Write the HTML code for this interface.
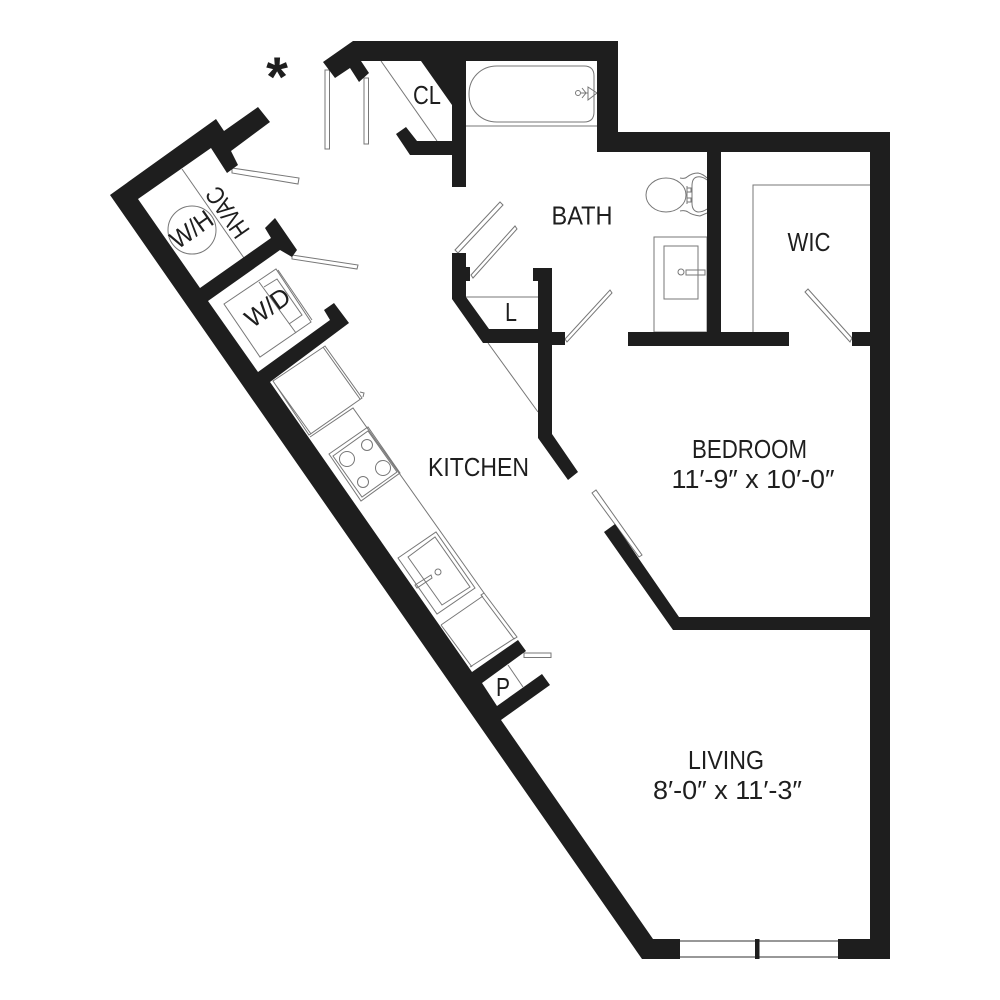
<!DOCTYPE html>
<html><head><meta charset="utf-8"><style>
html,body{margin:0;padding:0;background:#fff}
svg{display:block}
text{font-family:"Liberation Sans",sans-serif;fill:#1e1e1e;font-size:25.5px;text-anchor:middle}
.l{fill:none;stroke:#777;stroke-width:1}
.d{fill:#fff;stroke:#777;stroke-width:1}
.w{fill:#1e1e1e}
</style></head><body>
<svg width="1000" height="1000" viewBox="0 0 1000 1000" xmlns="http://www.w3.org/2000/svg">
<rect width="1000" height="1000" fill="#fff"/>
<!-- thin fixtures -->
<g class="l">
<path d="M182 169L244 258"/>
<circle cx="192" cy="230" r="24"/>
<path d="M224 304L276 269L311 322L260 357Z"/>
<path d="M259 282L296 333M264 287L277 279L302 315L289 324M278 270L312 320"/>
<path d="M381 61L437 141"/>
<path d="M466 126H597"/>
<path d="M497 66H584Q594 66 594 76V112Q594 122 584 122H497C481 122 469 110 469 94S481 66 497 66Z"/>
<circle cx="578" cy="93" r="2.5"/>
<path d="M588 87L597 93L588 100ZM581 93H588M582 88L586 93L582 98"/>
<path d="M466 297H538M488 343L538 412"/>
<ellipse cx="666" cy="195" rx="20" ry="17"/>
<path d="M680 178Q685 179 687 177Q692 173 698 173Q703 174 707 178M680 211Q685 210 688 212Q692 215 700 216L707 213"/>
<path d="M707 180Q702 176 697 177Q692 178 692 186V203Q692 211 698 212Q703 212 707 209"/>
<path d="M687 186V204M687 188H691V192H687M687 198H691V202H687"/>
<rect x="654" y="237" width="53" height="95"/>
<rect x="664" y="246" width="34" height="53"/>
<circle cx="681" cy="272" r="3"/>
<path d="M686 270H705V275H686Z"/>
<path d="M753 332V185H870"/>
<path d="M273 381L325 346L362 398L309 435ZM323 347L360 399M275 384L311 434M360 392L364 393L363 397"/>
<path d="M310 437L353 408L484 593M441 625L483 596"/>
<path d="M329 454L368 427L400 473L361 501Z"/>
<path d="M333 456L368 431L397 472L362 497Z"/>
<circle cx="347" cy="459" r="7.5"/><circle cx="367" cy="445" r="5.5"/>
<circle cx="383" cy="468" r="7.5"/><circle cx="363" cy="482" r="5.5"/>
<path d="M398 558L436 532L475 588L437 614Z"/>
<path d="M408 557L435 537L470 587L442 605Z"/>
<circle cx="438" cy="572" r="3"/>
<path d="M415 585L431 575L432 578L417 588Z"/>
<path d="M484 593L517 637L514 639L481 595Z"/>
<path d="M470 667L515 638M441 625L472 667"/>
<path d="M508 665L523 687"/>
<path d="M680 941H838M680 957H838" stroke-width="1.5"/>
</g>
<!-- doors -->
<g class="d">
<path d="M232 168L299 178L298 184L232 173Z"/>
<path d="M292 255L358 265L357 269L292 259Z"/>
<rect x="325" y="70" width="4.500" height="79"/>
<rect x="364" y="78" width="4.500" height="66"/>
<path d="M455 250L500 202L503 205L458 253Z"/>
<path d="M471 275L515 226L517 229L473 278Z"/>
<path d="M565 339L610 290L612 293L567 342Z"/>
<path d="M805 292L808 289L852 338L850 342Z"/>
<path d="M592 493L596 490L642 555L639 557Z"/>
<rect x="524" y="653" width="27" height="4.500"/>
</g>
<!-- walls -->
<g class="w">
<polygon points="110,195 216,119 224,131 258,107 270,122 231,151 238,165 227,173 211,148 138,199 200,288 271,238 265,228 275,218 297,250 292,257 280,250 208,301 258,372 330,320 324,310 334,303 349,323 270,382 472,672 518,640 526,651 482,683 497,706 542,674 550,685 501,720 653,939 680,939 680,959 642,959"/>
<polygon points="323,62 353,41 618,41 618,132 890,132 890,959 838,959 838,939 870,939 870,152 597,152 597,61 466,61 466,187 452,187 452,155 410,155 396,134 406,127 417,141 452,141 452,105 421,61 361,61 369,73 359,82 350,68 335,78"/>
<polygon points="604,532 615,524 679,617 870,617 870,630 673,630"/>
<polygon points="452,253 466,253 466,267 470,267 470,281 466,281 466,297 489,329 538,329 538,281 533,281 533,268 552,268 552,332 565,332 565,345 552,345 552,434 578,472 568,480 538,438 538,343 483,343 452,299"/>
<rect x="707" y="152" width="14" height="185"/>
<rect x="628" y="332" width="161" height="14"/>
<rect x="852" y="332" width="20" height="14"/>
<rect x="755" y="939" width="4.500" height="20"/>
</g>
<!-- labels -->
<text x="277" y="96" style="font-size:56px;font-weight:bold">*</text>
<text x="427" y="104" textLength="28" lengthAdjust="spacingAndGlyphs">CL</text>
<text x="582" y="224.500" textLength="61" lengthAdjust="spacingAndGlyphs">BATH</text>
<text x="809" y="251" textLength="43" lengthAdjust="spacingAndGlyphs">WIC</text>
<text x="511" y="321" textLength="12" lengthAdjust="spacingAndGlyphs">L</text>
<text x="749.500" y="458" textLength="115" lengthAdjust="spacingAndGlyphs">BEDROOM</text>
<text x="753" y="488" textLength="163" lengthAdjust="spacingAndGlyphs">11′-9″ x 10′-0″</text>
<text x="478.500" y="476" textLength="101" lengthAdjust="spacingAndGlyphs">KITCHEN</text>
<text x="726" y="769" textLength="76" lengthAdjust="spacingAndGlyphs">LIVING</text>
<text x="727.500" y="799" textLength="149" lengthAdjust="spacingAndGlyphs">8′-0″ x 11′-3″</text>
<text x="503" y="696" textLength="14" lengthAdjust="spacingAndGlyphs">P</text>
<text transform="translate(192 230) rotate(-35)" y="8" textLength="46" lengthAdjust="spacingAndGlyphs">W/H</text>
<text transform="translate(268 308) rotate(-35)" y="8" textLength="49" lengthAdjust="spacingAndGlyphs">W/D</text>
<text transform="translate(228 212) rotate(-125)" y="8" textLength="56" lengthAdjust="spacingAndGlyphs">HVAC</text>
</svg>
</body></html>
